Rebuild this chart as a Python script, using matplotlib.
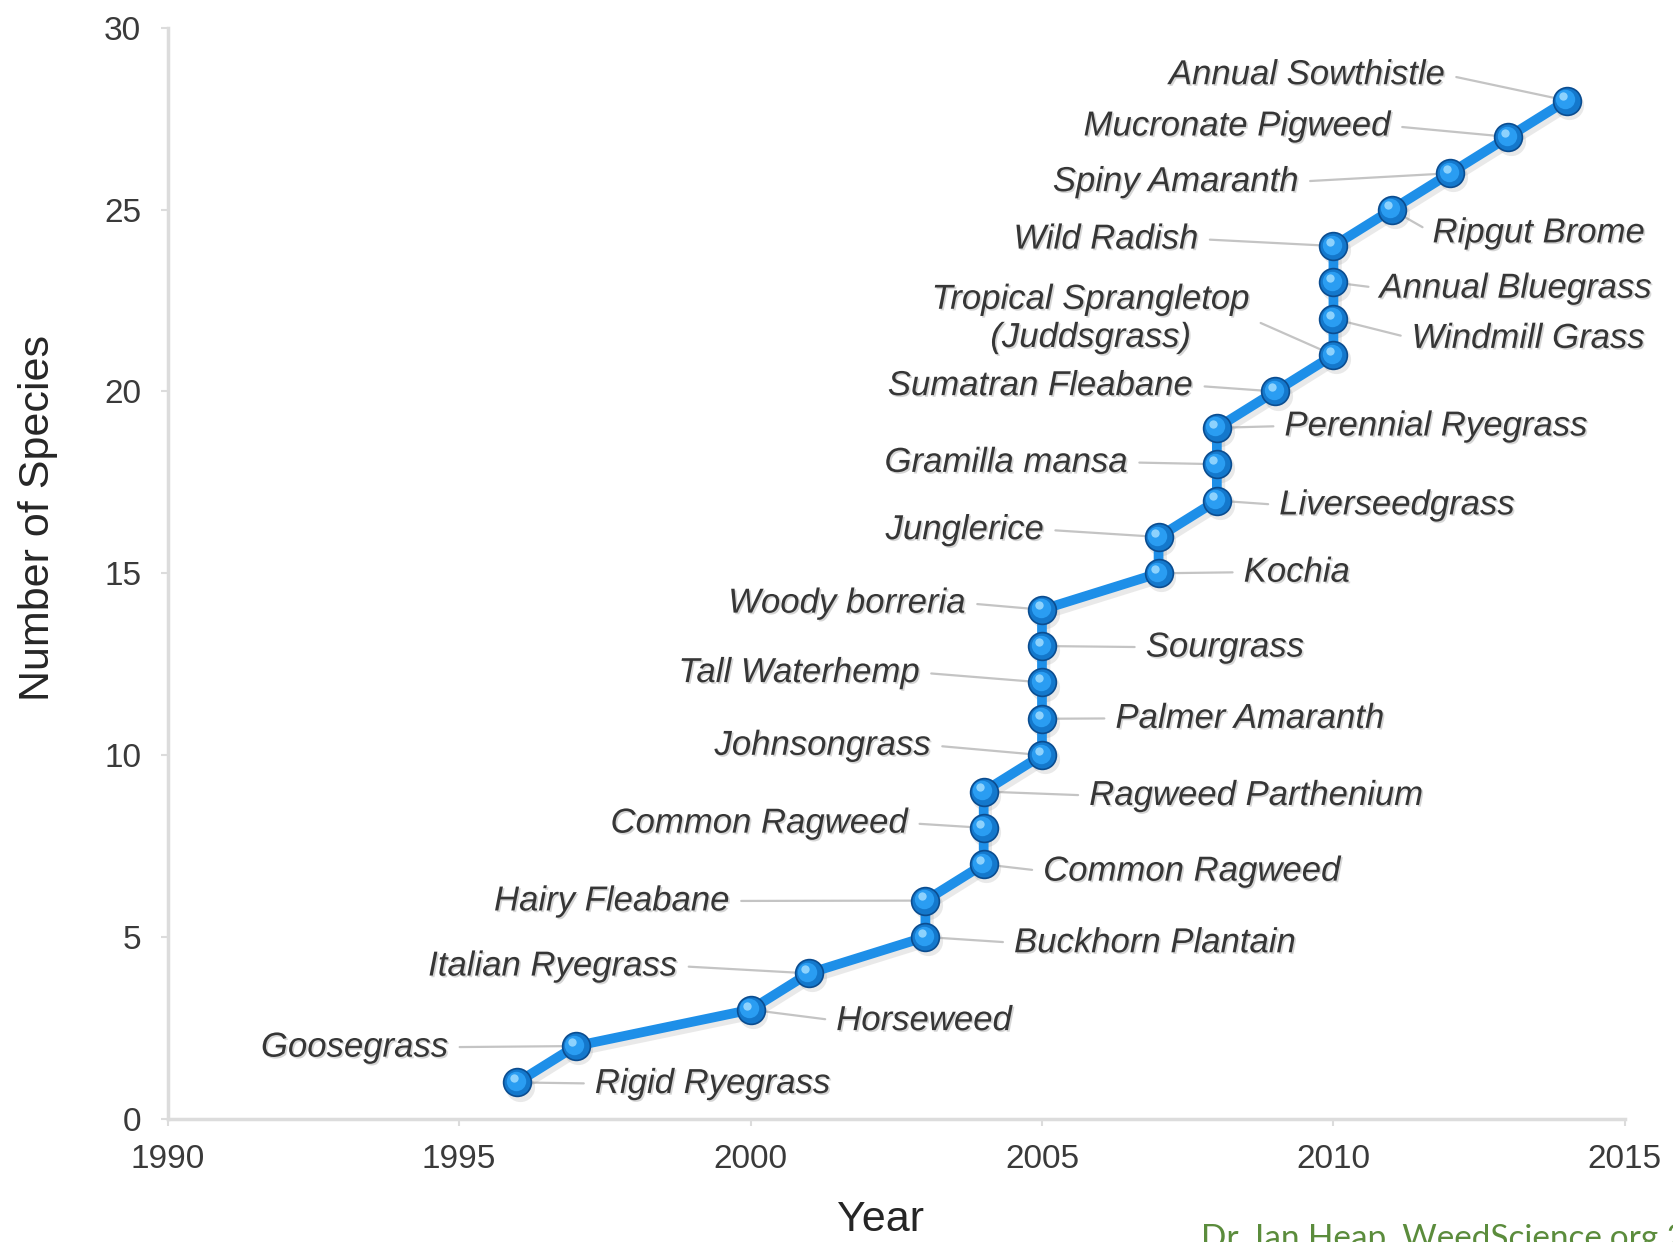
import matplotlib
matplotlib.use("Agg")
import matplotlib.pyplot as plt
import matplotlib.patheffects as pe
from matplotlib.transforms import offset_copy

# ---------------- data ----------------
years = [1996, 1997, 2000, 2001, 2003, 2003, 2004, 2004, 2004, 2005, 2005, 2005, 2005, 2005,
         2007, 2007, 2008, 2008, 2008, 2009, 2010, 2010, 2010, 2010, 2011, 2012, 2013, 2014]
counts = list(range(1, 29))
species = ["Rigid Ryegrass", "Goosegrass", "Horseweed", "Italian Ryegrass", "Buckhorn Plantain",
           "Hairy Fleabane", "Common Ragweed", "Common Ragweed", "Ragweed Parthenium",
           "Johnsongrass", "Palmer Amaranth", "Tall Waterhemp", "Sourgrass", "Woody borreria",
           "Kochia", "Junglerice", "Liverseedgrass", "Gramilla mansa", "Perennial Ryegrass",
           "Sumatran Fleabane", "Tropical Sprangletop\n(Juddsgrass)", "Windmill Grass",
           "Annual Bluegrass", "Wild Radish", "Ripgut Brome", "Spiny Amaranth",
           "Mucronate Pigweed", "Annual Sowthistle"]
x_ticks = [1990, 1995, 2000, 2005, 2010, 2015]
y_ticks = [0, 5, 10, 15, 20, 25, 30]

# ---------------- label layout (positions in data units, alignment) ----------------
label_pos = [(1997.33, 0.97, 'left'), (1994.82, 1.97, 'right'), (2001.47, 2.70, 'left'),
             (1998.75, 4.20, 'right'), (2004.52, 4.84, 'left'), (1999.65, 5.99, 'right'),
             (2005.02, 6.81, 'left'), (2002.71, 8.13, 'right'), (2005.81, 8.89, 'left'),
             (2003.10, 10.27, 'right'), (2006.26, 11.01, 'left'), (2002.91, 12.27, 'right'),
             (2006.78, 12.97, 'left'), (2003.70, 14.18, 'right'), (2008.46, 15.03, 'left'),
             (2005.04, 16.20, 'right'), (2009.07, 16.88, 'left'), (2006.48, 18.05, 'right'),
             (2009.16, 19.05, 'left'), (2007.60, 20.16, 'right'), (2005.84, 22.01, 'center'),
             (2011.34, 21.46, 'left'), (2010.79, 22.84, 'left'), (2007.69, 24.19, 'right'),
             (2011.70, 24.36, 'left'), (2009.41, 25.77, 'right'), (2010.99, 27.30, 'right'),
             (2011.92, 28.71, 'right')]

W, H = 1674, 1242
fig = plt.figure(figsize=(W / 100, H / 100), dpi=100)
fig.patch.set_facecolor('white')
ax = fig.add_axes([167.6 / W, 1 - 1118.8 / H, (1624.9 - 167.6) / W, (1118.8 - 27.8) / H])

FONT = 'Liberation Sans'

# shadow of the line
sh = offset_copy(ax.transData, fig=fig, x=2, y=-3, units='points')
ax.plot(years, counts, color='#888888', lw=8, alpha=0.18, transform=sh, solid_capstyle='round',
        zorder=2, clip_on=False)
ax.plot(years, counts, 'o', color='#888888', ms=21, alpha=0.18, mew=0, transform=sh, zorder=2,
        clip_on=False)

# main line and sphere markers
ax.plot(years, counts, color='#1e8fe8', lw=7, zorder=3, solid_capstyle='round', clip_on=False)
ax.plot(years, counts, 'o', ms=20, mfc='#1478cc', mec='#0b4d90', mew=1.2, zorder=4, clip_on=False)
mid = offset_copy(ax.transData, fig=fig, x=-1, y=1, units='points')
ax.plot(years, counts, 'o', ms=14, mfc='#2a9df2', mew=0, transform=mid, zorder=5, clip_on=False)
hl = offset_copy(ax.transData, fig=fig, x=-2.5, y=3, units='points')
ax.plot(years, counts, 'o', ms=6, mfc='#9fdcff', mew=0, alpha=0.85, transform=hl, zorder=6,
        clip_on=False)

# labels with leader lines
shadow = [pe.withSimplePatchShadow(offset=(1.2, -1.2), shadow_rgbFace='#9a9a9a', alpha=0.4)]
for name, xv, yv, (lx, ly, side) in zip(species, years, counts, label_pos):
    relpos = {'left': (0, 0.5), 'right': (1, 0.5), 'center': (1, 0.5)}[side]
    ax.annotate(name, xy=(xv, yv), xytext=(lx, ly), textcoords='data',
                ha=side, va='center', multialignment='center',
                fontsize=25, fontstyle='italic', family=FONT, color='#363636',
                path_effects=shadow, zorder=1,
                arrowprops=dict(arrowstyle='-', color='#c4c4c4', lw=1.6,
                                shrinkA=6, shrinkB=9, relpos=relpos))

# axes styling
ax.set_xlim(1990, 2015)
ax.set_ylim(0, 30)
ax.set_xticks(x_ticks)
ax.set_yticks(y_ticks)
for s in ['top', 'right']:
    ax.spines[s].set_visible(False)
for s in ['left', 'bottom']:
    ax.spines[s].set_color('#dcdcdc')
    ax.spines[s].set_linewidth(2.5)
ax.tick_params(axis='both', colors='#dcdcdc', length=5, width=1.5, direction='out',
               labelcolor='#3a3a3a', labelsize=24)
ax.tick_params(axis='x', pad=13)
ax.tick_params(axis='y', pad=14)
for lab in ax.get_xticklabels() + ax.get_yticklabels():
    lab.set_family(FONT)

fig.text(38 / W, 1 - 518 / H, 'Number of Species', rotation=90, ha='center', va='center',
         fontsize=31, family=FONT, color='#262626')
fig.text(881 / W, 1 - 1220 / H, 'Year', ha='center', va='center',
         fontsize=31, family=FONT, color='#262626')
fig.text(1201 / W, 1 - 1224 / H, 'Dr. Ian Heap, WeedScience.org 2014', ha='left', va='top',
         fontsize=24, family='Lato', color='#5b8c3c')

fig.savefig('out.png', dpi=100, facecolor='white')
